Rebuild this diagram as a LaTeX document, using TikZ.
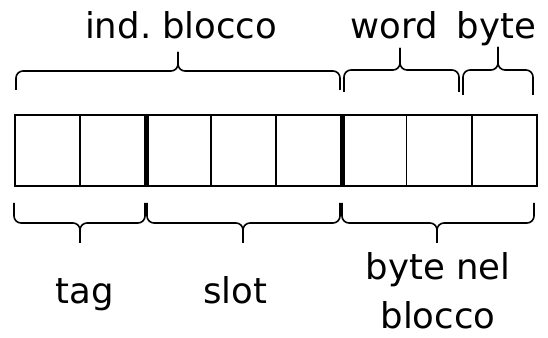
\documentclass[tikz,border=0pt]{standalone}
\usepackage{fontspec}
\setmainfont{DejaVu Sans}
% curly brace: x left, x right, x tip, y ends, y bar, y tip
\newcommand{\fieldbrace}[6]{%
  \draw[brc] (#1,#4) -- (#1,#5) -- (#3,#5) -- (#3,#6);
  \draw[brc] (#2,#4) -- (#2,#5) -- (#3,#5) -- (#3,#6);}
\begin{document}
\begin{tikzpicture}[x=1pt,y=1pt,
cell/.style={draw=black,line width=1.6pt,minimum width=65.25pt,minimum height=71pt,inner sep=0pt},
sep/.style={line width=5pt},
brc/.style={line width=1.6pt,rounded corners=7pt},
lbl/.style={font=\fontsize{35.5}{49}\selectfont,anchor=base,inner sep=0pt,align=center}
]
\useasboundingbox (0,0) rectangle (548,337);
% the eight cells of the address
\foreach \i in {1,...,8}
  \node[cell] (c\i) at ({15+65.25*(\i-0.5)},186.5) {};
\draw[sep] (c2.north east) -- (c2.south east);
\draw[sep] (c5.north east) -- (c5.south east);
% fields above
\fieldbrace{16}{340}{178}{247}{266}{285}
\fieldbrace{344}{459}{400}{245}{267}{289}
\fieldbrace{463}{533}{498}{242}{267}{290}
\node[lbl] (iblk) at (181,298) {ind.\hspace{-0.12em} blocco};
\node[lbl] (wrd) at (394,298) {word};
\node[lbl] (byt) at (496.5,298) {byte};
% fields below
\fieldbrace{14}{145}{80}{134}{114}{94}
\fieldbrace{147}{340}{243}{134}{114}{94}
\fieldbrace{342}{534}{437}{134}{114}{94}
\node[lbl] (tag) at (85,33.5) {tag};
\node[lbl] (slot) at (235,33.5) {slot};
\node[lbl] (bnb) at (438,9) {byte nel\\blocco};
\end{tikzpicture}
\end{document}
